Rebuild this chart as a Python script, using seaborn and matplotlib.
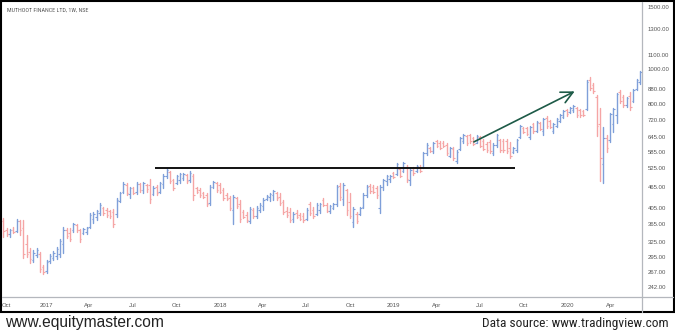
import matplotlib
matplotlib.use("Agg")
import matplotlib.pyplot as plt
from matplotlib import font_manager
from matplotlib.lines import Line2D
from matplotlib.patches import Rectangle
from matplotlib.ticker import NullLocator
import numpy as np
import pandas as pd
import seaborn as sns

# Weekly OHLC prices, Muthoot Finance (NSE), one bar per week
first_week = "2016-10-03"
opens = [372, 352, 341, 352, 348, 371, 355, 320, 305, 289, 299, 300, 275, 268, 286, 292, 296, 300, 320, 352,
         345, 350, 362, 350, 344, 346, 358, 378, 382, 392, 405, 400, 396, 395, 390, 425, 450, 472, 445, 460,
         450, 473, 455, 472, 470, 445, 465, 450, 475, 500, 512, 485, 478, 485, 492, 502, 485, 500, 460, 455,
         446, 440, 418, 465, 476, 470, 455, 440, 432, 400, 432, 415, 395, 388, 372, 400, 385, 400, 410, 430,
         435, 440, 448, 435, 420, 398, 395, 376, 392, 386, 384, 378, 415, 400, 390, 400, 428, 412, 396, 406,
         415, 468, 430, 455, 420, 370, 390, 390, 408, 440, 468, 465, 460, 405, 465, 482, 490, 508, 505, 522,
         515, 530, 485, 524, 515, 530, 530, 580, 600, 586, 626, 620, 620, 612, 570, 595, 550, 595, 628, 646,
         650, 638, 620, 642, 628, 615, 622, 580, 610, 630, 628, 625, 600, 582, 590, 642, 684, 680, 645, 700,
         670, 705, 668, 730, 712, 668, 692, 715, 735, 766, 756, 765, 778, 765, 760, 770, 935, 900, 835, 700,
         540, 640, 630, 700, 740, 860, 835, 790, 840, 815, 880, 920]
highs = [380, 356, 353, 358, 377, 375, 375, 340, 312, 308, 312, 304, 279, 289, 300, 306, 314, 331, 358, 356,
         356, 367, 365, 353, 356, 358, 392, 395, 400, 418, 408, 405, 400, 402, 432, 450, 480, 477, 464, 464,
         480, 477, 480, 474, 489, 467, 470, 480, 505, 526, 515, 489, 502, 509, 509, 505, 515, 505, 464, 461,
         450, 447, 470, 483, 480, 477, 461, 447, 438, 441, 435, 427, 400, 395, 408, 405, 410, 418, 432, 441,
         447, 455, 450, 447, 427, 408, 405, 395, 400, 392, 392, 405, 421, 408, 418, 418, 432, 418, 413, 418,
         470, 477, 477, 458, 447, 408, 395, 408, 447, 470, 474, 470, 467, 470, 489, 502, 502, 512, 543, 526,
         547, 536, 526, 529, 536, 536, 583, 619, 603, 623, 631, 627, 627, 619, 603, 603, 591, 643, 656, 652,
         656, 643, 652, 647, 635, 623, 631, 619, 656, 635, 635, 635, 623, 603, 635, 695, 687, 687, 691, 705,
         714, 709, 728, 737, 718, 705, 728, 747, 767, 772, 782, 792, 782, 772, 767, 932, 951, 914, 846, 777,
         687, 652, 752, 777, 857, 874, 846, 834, 862, 879, 938, 989]
lows = [335, 337, 335, 344, 346, 340, 292, 294, 283, 285, 294, 267, 263, 265, 283, 289, 291, 294, 302, 333,
        327, 346, 346, 325, 342, 342, 356, 367, 375, 387, 387, 382, 380, 358, 382, 421, 447, 441, 432, 444,
        444, 450, 447, 450, 418, 441, 441, 447, 461, 492, 477, 455, 474, 477, 486, 477, 480, 427, 447, 435,
        432, 410, 413, 461, 450, 447, 427, 427, 400, 365, 405, 370, 380, 370, 367, 380, 380, 395, 400, 427,
        424, 427, 427, 413, 390, 382, 370, 370, 380, 375, 370, 375, 387, 380, 387, 392, 410, 395, 392, 402,
        410, 427, 413, 387, 380, 358, 367, 387, 405, 435, 447, 447, 432, 392, 455, 470, 480, 492, 502, 496,
        512, 480, 470, 502, 512, 512, 526, 572, 583, 580, 603, 595, 603, 572, 565, 554, 543, 591, 619, 610,
        619, 610, 619, 603, 591, 583, 580, 572, 603, 583, 583, 580, 561, 580, 583, 639, 660, 652, 635, 660,
        664, 673, 652, 682, 682, 660, 687, 709, 728, 737, 752, 757, 733, 733, 737, 767, 874, 857, 647, 483,
        477, 583, 623, 664, 705, 803, 782, 782, 767, 808, 874, 908]
closes = [348, 342, 350, 347, 372, 350, 300, 300, 290, 303, 308, 272, 267, 285, 297, 303, 310, 326, 352, 338,
          332, 364, 350, 330, 353, 355, 388, 390, 396, 414, 392, 388, 384, 365, 428, 446, 475, 448, 460, 448,
          475, 455, 476, 458, 430, 462, 446, 476, 500, 520, 482, 462, 498, 505, 505, 482, 510, 440, 450, 440,
          436, 415, 465, 480, 455, 450, 432, 430, 405, 435, 410, 378, 382, 374, 402, 384, 405, 414, 428, 438,
          444, 452, 432, 418, 395, 386, 375, 390, 382, 378, 374, 400, 392, 385, 414, 415, 414, 398, 410, 416,
          465, 435, 470, 400, 385, 402, 372, 405, 442, 465, 452, 450, 440, 465, 485, 498, 500, 496, 538, 500,
          542, 488, 520, 508, 532, 515, 578, 612, 588, 618, 608, 600, 606, 578, 598, 560, 585, 638, 650, 618,
          625, 615, 646, 608, 596, 590, 588, 612, 650, 590, 592, 586, 568, 598, 630, 690, 664, 656, 685, 668,
          708, 678, 722, 690, 688, 700, 722, 742, 762, 745, 778, 788, 740, 740, 742, 920, 885, 866, 690, 560,
          640, 600, 745, 770, 850, 815, 792, 828, 780, 872, 930, 980]

# Right-hand price scale and quarterly date labels
price_ticks = [242, 267, 295, 325, 365, 405, 465, 525, 585, 645, 720, 800, 880, 1000, 1100, 1300, 1500]
quarter_starts = ["2016-10-10", "2017-01-01", "2017-04-01", "2017-07-01", "2017-10-01", "2018-01-01",
                  "2018-04-01", "2018-07-01", "2018-10-01", "2019-01-01", "2019-04-01", "2019-07-01",
                  "2019-10-01", "2020-01-01", "2020-04-01"]
quarter_labels = ["Oct", "2017", "Apr", "Jul", "Oct", "2018", "Apr", "Jul", "Oct", "2019", "Apr", "Jul",
                  "Oct", "2020", "Apr"]

# Drawn annotations: support level and trend arrow
support_level = 525
support_from, support_to = "2017-08-18", "2019-09-12"
trend_from = ("2019-06-13", 618)
trend_to = ("2020-01-21", 873)

bar_colors = {"up": "#7f9fd9", "down": "#f5a5a5"}

sns.set_theme(style="white")
plt.rcParams["font.family"] = ["Liberation Sans", "DejaVu Sans"]

# Use a condensed face for the narrow captions when one is installed
installed = {f.name for f in font_manager.fontManager.ttflist}
condensed = next((n for n in ["Liberation Sans Narrow", "Roboto Condensed", "Open Sans Condensed"]
                  if n in installed), None)
if condensed is None:
    # DejaVu Sans Condensed is reached through the stretch property of DejaVu Sans
    narrow_kw = dict(family=["DejaVu Sans"], stretch="condensed")
    cond_ok = any(f.name == "DejaVu Sans" and f.stretch == "condensed"
                  for f in font_manager.fontManager.ttflist)
else:
    narrow_kw = dict(family=[condensed, "Liberation Sans"])
    cond_ok = True
source_size = 9.6 if cond_ok else 8.8
title_size = 4.3 if cond_ok else 3.7

df = pd.DataFrame({
    "week": pd.date_range(first_week, periods=len(opens), freq="7D"),
    "open": opens, "high": highs, "low": lows, "close": closes,
})
df["bar"] = np.arange(len(df))
df["trend"] = np.where(df["close"] >= df["open"], "up", "down")
ranges = df.melt(id_vars=["bar", "week", "trend"], value_vars=["low", "high"], value_name="price")

W, H = 675, 336
fig = plt.figure(figsize=(W / 100, H / 100), dpi=100)
fig.patch.set_facecolor("white")
ax = fig.add_axes([2 / W, 39 / H, 640 / W, 295 / H])
ax.set_facecolor("white")

# High-low range of every bar
sns.lineplot(data=ranges, x="week", y="price", units="bar", estimator=None, sort=False,
             hue="trend", palette=bar_colors, linewidth=1.0, legend=False, ax=ax)
# Open tick on the left, close tick on the right
sns.scatterplot(data=df, x="week", y="open", hue="trend", palette=bar_colors, marker=0,
                s=1.2, linewidth=0.8, legend=False, ax=ax)
sns.scatterplot(data=df, x="week", y="close", hue="trend", palette=bar_colors, marker=1,
                s=1.2, linewidth=0.8, legend=False, ax=ax)

ax.set_yscale("log")
ax.set_ylim(226.8, 1550)
ax.set_xlim(pd.Timestamp(first_week) - pd.Timedelta(days=2.7),
            pd.Timestamp(first_week) + pd.Timedelta(weeks=191.6))
ax.yaxis.set_minor_locator(NullLocator())
ax.set_yticks(price_ticks)
ax.set_yticklabels([f"{v:.2f}" for v in price_ticks])
ax.yaxis.tick_right()
ax.set_xticks(pd.to_datetime(quarter_starts))
ax.set_xticklabels(quarter_labels)
ax.tick_params(axis="both", length=0, labelsize=4.3, labelcolor="#555555")
ax.tick_params(axis="y", pad=4.0)
ax.tick_params(axis="x", pad=4.0)
ax.set_xlabel("")
ax.set_ylabel("")
for s in ax.spines.values():
    s.set_visible(False)

ax.hlines(support_level, pd.Timestamp(support_from), pd.Timestamp(support_to),
          color="#111111", linewidth=1.4)
ax.annotate("", xy=(pd.Timestamp(trend_to[0]), trend_to[1]),
            xytext=(pd.Timestamp(trend_from[0]), trend_from[1]),
            arrowprops=dict(arrowstyle="->,head_length=0.7,head_width=0.35",
                            color="#1d5a47", lw=1.2, mutation_scale=12))

# Scale separators and outer frame
fig.add_artist(Line2D([2 / W, 673 / W], [39 / H, 39 / H], color="#b4b7bd", lw=0.9))
fig.add_artist(Line2D([642 / W, 642 / W], [24 / H, 334 / H], color="#b4b7bd", lw=0.9))
fig.add_artist(Rectangle((1 / W, 24 / H), 673 / W, 311 / H, fill=False,
                         edgecolor="black", linewidth=1.5, transform=fig.transFigure))

fig.text(7 / W, 1 - 10 / H, "MUTHOOT FINANCE LTD, 1W, NSE", fontsize=title_size, color="#555555",
         va="center", ha="left", **narrow_kw)
fig.text(5 / W, 1 - 323 / H, "www.equitymaster.com", fontsize=11.2, color="#222222",
         va="center", ha="left")
fig.text(669 / W, 1 - 323 / H, "Data source: www.tradingview.com", fontsize=source_size,
         color="#222222", va="center", ha="right", **narrow_kw)

fig.savefig("out.png", dpi=100, facecolor="white")
